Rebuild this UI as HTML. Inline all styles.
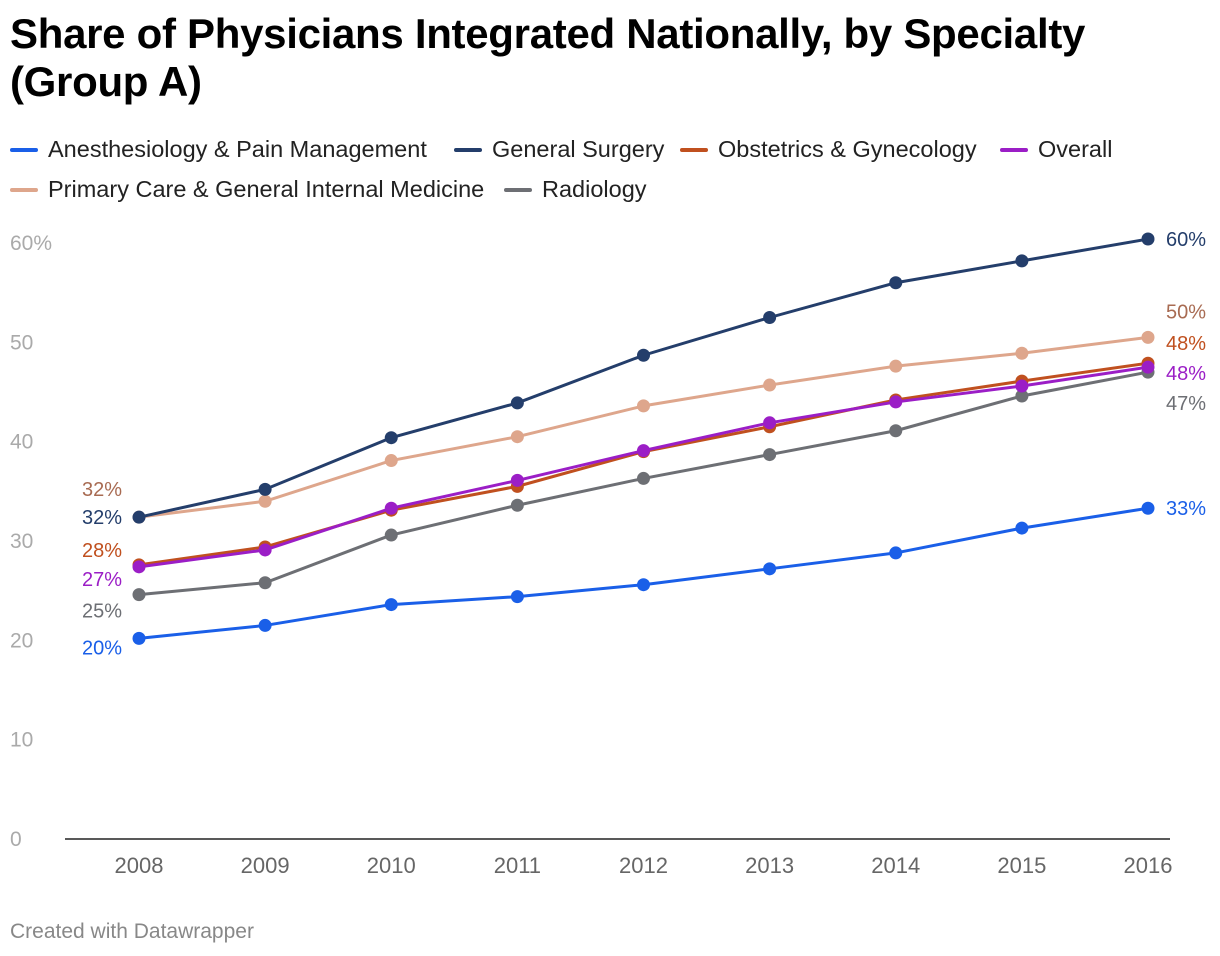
<!DOCTYPE html>
<html><head><meta charset="utf-8">
<style>
body{margin:0;width:1220px;height:956px;background:#fff;font-family:"Liberation Sans",sans-serif;overflow:hidden;position:relative}
h1{position:absolute;left:10px;top:10px;margin:0;font-size:42px;line-height:48px;font-weight:bold;color:#000;letter-spacing:-0.3px}
.leg{position:absolute;font-size:23.5px;color:#222;display:flex;align-items:center;white-space:nowrap}
.leg span.sw{display:inline-block;width:28px;height:4px;border-radius:2px;margin-right:10px}
.foot{position:absolute;left:10px;top:920px;font-size:21px;color:#888}
</style></head><body>
<h1>Share of Physicians Integrated Nationally, by Specialty<br>(Group A)</h1>
<div id="legend"></div>
<svg id="chart" width="1220" height="956" style="position:absolute;left:0;top:0"></svg>
<div class="foot">Created with Datawrapper</div>
<script>
const years=[2008,2009,2010,2011,2012,2013,2014,2015,2016];
const yTicks=[0,10,20,30,40,50,60];
const seriesNames=["Anesthesiology & Pain Management","General Surgery","Obstetrics & Gynecology","Overall","Primary Care & General Internal Medicine","Radiology"];
const anesthesiology=[20.2,21.5,23.6,24.4,25.6,27.2,28.8,31.3,33.3];
const generalSurgery=[32.4,35.2,40.4,43.9,48.7,52.5,56.0,58.2,60.4];
const obgyn=[27.6,29.4,33.1,35.5,39.0,41.5,44.2,46.1,47.9];
const overall=[27.4,29.1,33.3,36.1,39.1,41.9,44.0,45.6,47.5];
const primaryCare=[32.4,34.0,38.1,40.5,43.6,45.7,47.6,48.9,50.5];
const radiology=[24.6,25.8,30.6,33.6,36.3,38.7,41.1,44.6,47.0];
const startLabels=["20%","32%","28%","27%","32%","25%"];
const endLabels=["33%","60%","48%","48%","50%","47%"];

const series=[anesthesiology,generalSurgery,obgyn,overall,primaryCare,radiology];
const colors=["#1a5fe8","#243e6b","#c0501f","#9b1ec6","#dea68c","#6d6f74"];
const labelColors=["#1a5fe8","#243e6b","#c0501f","#9b1ec6","#a86b52","#6d6f74"];
const drawOrder=[4,5,0,2,3,1];
const startDy=[9,0,-15,12,-28,16];
const endDy=[0,0,-20,6,-26,31];
const x=i=>139+i*(1148-139)/(years.length-1);
const y=v=>839-v*(839-243)/60;
const svg=document.getElementById('chart');
const NS='http://www.w3.org/2000/svg';
function mk(t,a){const e=document.createElementNS(NS,t);for(const k in a)e.setAttribute(k,a[k]);svg.appendChild(e);return e;}
yTicks.forEach(t=>{
  const e=mk('text',{x:10,y:y(t)+7,fill:'#aaa','font-size':21});
  e.textContent=t===60?'60%':String(t);
  
  
});
const ax=mk('line',{x1:65,x2:1170,y1:839,y2:839,stroke:'#222','stroke-width':1.5});


years.forEach((yr,i)=>{
  const e=mk('text',{x:x(i),y:873,fill:'#666','font-size':22,'text-anchor':'middle'});
  e.textContent=yr;
  
  
});
drawOrder.forEach(s=>{
  const d=series[s].map((v,i)=>(i?'L':'M')+x(i)+','+y(v)).join('');
  const p=mk('path',{d:d,fill:'none',stroke:colors[s],'stroke-width':3});
  
  
  series[s].forEach((v,i)=>{
    const c=mk('circle',{cx:x(i),cy:y(v),r:6.5,fill:colors[s]});
    
    
  });
});
series.forEach((arr,s)=>{
  const a=mk('text',{x:122,y:y(arr[0])+7+startDy[s],fill:labelColors[s],'font-size':20,'text-anchor':'end'});
  a.textContent=startLabels[s];
  
  
  const b=mk('text',{x:1166,y:y(arr[arr.length-1])+7+endDy[s],fill:labelColors[s],'font-size':20});
  b.textContent=endLabels[s];
  
  
});
const legPos=[[10,150],[454,150],[680,150],[1000,150],[10,190],[504,190]];
const lg=document.getElementById('legend');
seriesNames.forEach((n,i)=>{
  const d=document.createElement('div');
  d.className='leg';
  
  
  d.style.left=legPos[i][0]+'px';d.style.top=(legPos[i][1]-14)+'px';
  d.innerHTML='<span class="sw" style="background:'+colors[i]+'"></span>';
  d.appendChild(document.createTextNode(n));
  lg.appendChild(d);
});
</script>
</body></html>
